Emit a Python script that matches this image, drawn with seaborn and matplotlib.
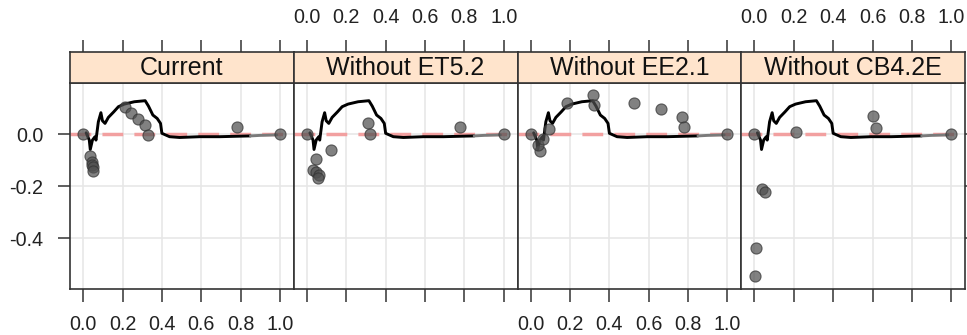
import matplotlib
matplotlib.use("Agg")
import matplotlib.pyplot as plt
import numpy as np
import pandas as pd
import seaborn as sns

# ---- data ---------------------------------------------------------------
panels = ["Current", "Without ET5.2", "Without EE2.1", "Without CB4.2E"]

current_x = [0.0, 0.034, 0.043, 0.046, 0.051, 0.048, 0.213, 0.243, 0.281, 0.315, 0.327, 0.783, 1.0]
current_y = [0.0, -0.084, -0.106, -0.119, -0.128, -0.141, 0.102, 0.082, 0.056, 0.034, -0.004, 0.028, 0.0]

et52_x = [0.0, 0.124, 0.044, 0.031, 0.048, 0.061, 0.056, 0.311, 0.320, 0.779, 1.0]
et52_y = [0.0, -0.061, -0.097, -0.138, -0.144, -0.157, -0.170, 0.041, 0.0, 0.028, 0.0]

ee21_x = [0.0, 0.048, 0.039, 0.064, 0.095, 0.187, 0.316, 0.322, 0.526, 0.662, 0.770, 0.778, 1.0]
ee21_y = [0.0, -0.064, -0.042, -0.017, 0.018, 0.118, 0.149, 0.111, 0.118, 0.095, 0.066, 0.028, 0.0]

cb42e_x = [0.0, 0.209, 0.600, 0.617, 1.0, 0.039, 0.053, 0.009, 0.002]
cb42e_y = [0.0, 0.009, 0.069, 0.022, 0.0, -0.212, -0.221, -0.438, -0.544]

# reference curve shared by all panels
curve_x = [0.015, 0.031, 0.036, 0.047, 0.060, 0.065, 0.077, 0.090, 0.098, 0.111,
           0.128, 0.155, 0.179, 0.209, 0.260, 0.315, 0.332, 0.354, 0.376, 0.393,
           0.400, 0.439, 0.490, 0.592, 0.694, 0.796, 0.850, 0.898, 0.983]
curve_y = [0.005, -0.023, -0.059, -0.023, -0.010, -0.023, 0.047, 0.082, 0.051, 0.041,
           0.064, 0.085, 0.105, 0.115, 0.124, 0.128, 0.107, 0.073, 0.060, 0.041,
           0.003, -0.010, -0.013, -0.010, -0.010, -0.008, -0.007, -0.005, -0.003]

x_ticks = [0.0, 0.2, 0.4, 0.6, 0.8, 1.0]
x_ticklabels = ["0.0", "0.2", "0.4", "0.6", "0.8", "1.0"]
y_ticks = [0.0, -0.2, -0.4]
y_ticklabels = ["0.0", "-0.2", "-0.4"]

points = pd.concat([
    pd.DataFrame({"x": current_x, "y": current_y, "panel": panels[0]}),
    pd.DataFrame({"x": et52_x, "y": et52_y, "panel": panels[1]}),
    pd.DataFrame({"x": ee21_x, "y": ee21_y, "panel": panels[2]}),
    pd.DataFrame({"x": cb42e_x, "y": cb42e_y, "panel": panels[3]}),
], ignore_index=True)
curve = pd.DataFrame({"x": curve_x, "y": curve_y})
tail_start = curve_x.index(0.850)
curve_main = curve.iloc[:tail_start + 1]
curve_tail = curve.iloc[tail_start:]

# ---- style --------------------------------------------------------------
sns.set_theme(style="white")
plt.rcParams["font.family"] = ["Liberation Sans", "DejaVu Sans"]

W_PX, H_PX = 967, 335
fig = plt.figure(figsize=(W_PX / 100, H_PX / 100), dpi=100)

def fx(px):
    return px / W_PX

def fy(py):
    return 1 - py / H_PX

xlim = (-0.067, 1.07)
ylim = (-0.595, 0.197)
panel_left, panel_w = 70, 223.75
panel_top, panel_bot = 82.7, 289.3
strip_top = 51.7

edge = "#333333"
grid_c = "#e6e6e6"
strip_c = "#ffe4cc"
tick_fs = 14.2
tick_len = 9
tick_w = 1.1

for k, name in enumerate(panels):
    left = panel_left + panel_w * k
    ax = fig.add_axes([fx(left), fy(panel_bot), panel_w / W_PX,
                       (panel_bot - panel_top) / H_PX])
    sax = fig.add_axes([fx(left), fy(panel_top), panel_w / W_PX,
                        (panel_top - strip_top) / H_PX])

    # panel content
    for xv in x_ticks:
        ax.axvline(xv, color=grid_c, lw=1.1, zorder=0)
    for yv in y_ticks:
        ax.axhline(yv, color=grid_c, lw=1.1, zorder=0)
    ax.axhline(0, color="#f2a0a0", lw=2.5, dashes=(6, 3.2), zorder=1)
    sns.lineplot(data=curve_main, x="x", y="y", sort=False, estimator=None,
                 color="black", lw=2.1, ax=ax, zorder=2)
    sns.lineplot(data=curve_tail, x="x", y="y", sort=False, estimator=None,
                 color="#7a7a7a", lw=2.1, ax=ax, zorder=2)
    sub = points[points["panel"] == name]
    sns.scatterplot(data=sub, x="x", y="y", s=64, color="#505050", alpha=0.72,
                    edgecolor="#333333", linewidth=0.8, ax=ax, zorder=3)

    ax.set_xlim(*xlim)
    ax.set_ylim(*ylim)
    ax.set_xlabel("")
    ax.set_ylabel("")
    ax.set_facecolor("white")
    for sp in ax.spines.values():
        sp.set_color(edge)
        sp.set_linewidth(1.2)
        sp.set_visible(True)

    ax.set_xticks(x_ticks)
    if k in (0, 2):
        ax.set_xticklabels(x_ticklabels)
    else:
        ax.set_xticklabels([])
    ax.tick_params(axis="x", direction="out", length=tick_len, width=tick_w,
                   color=edge, labelsize=tick_fs, pad=9.5, bottom=True, top=False,
                   labelcolor="#222222")

    ax.set_yticks(y_ticks)
    if k == 0:
        ax.set_yticklabels(y_ticklabels)
        ax.tick_params(axis="y", direction="out", length=tick_len, width=tick_w,
                       color=edge, labelsize=tick_fs, pad=10, left=True, right=False,
                       labelcolor="#222222")
    elif k == 3:
        ax.set_yticklabels([])
        ax.tick_params(axis="y", direction="out", length=tick_len, width=tick_w,
                       color=edge, left=False, right=True, labelleft=False)
    else:
        ax.tick_params(axis="y", left=False, right=False, labelleft=False)

    # strip header
    sax.set_facecolor(strip_c)
    sax.set_xlim(*xlim)
    sax.set_ylim(0, 1)
    sax.set_yticks([])
    sax.xaxis.set_ticks_position("top")
    sax.set_xticks(x_ticks)
    if k in (1, 3):
        sax.set_xticklabels(x_ticklabels)
    else:
        sax.set_xticklabels([])
    sax.tick_params(axis="x", direction="out", length=tick_len, width=tick_w,
                    color=edge, labelsize=tick_fs, pad=9, top=True, bottom=False,
                    labeltop=True, labelbottom=False, labelcolor="#222222")
    for sp in sax.spines.values():
        sp.set_color(edge)
        sp.set_linewidth(1.2)
        sp.set_visible(True)
    sax.text(0.5, 0.46, name, transform=sax.transAxes, ha="center", va="center",
             fontsize=18, color="#111111")

fig.savefig("out.png", dpi=100)
